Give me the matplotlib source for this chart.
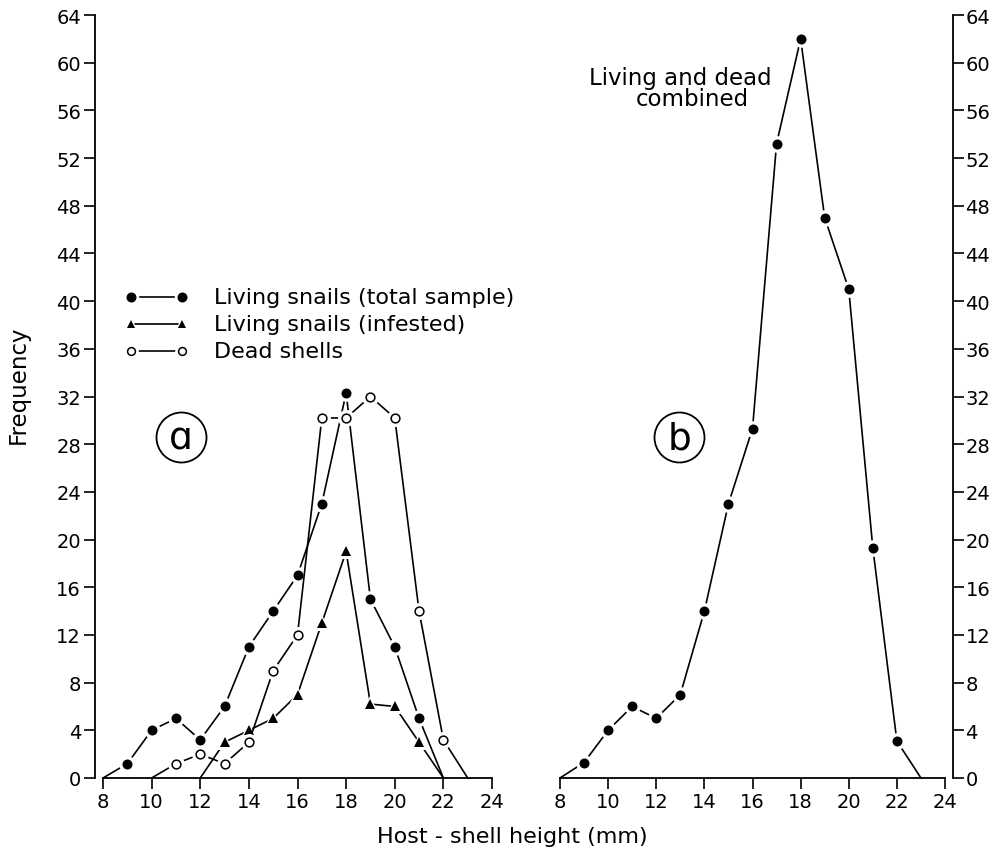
import matplotlib
matplotlib.use("Agg")
import matplotlib.pyplot as plt
from matplotlib.lines import Line2D
import numpy as np

# ---------------- data ----------------
x_total = [8, 9, 10, 11, 12, 13, 14, 15, 16, 17, 18, 19, 20, 21, 22]
y_total = [0, 1.2, 4, 5, 3.2, 6, 11, 14, 17, 23, 32.3, 15, 11, 5, 0]

x_inf = [12, 13, 14, 15, 16, 17, 18, 19, 20, 21, 22]
y_inf = [0, 3, 4, 5, 7, 13, 19, 6.2, 6, 3, 0]

x_dead = [10, 11, 12, 13, 14, 15, 16, 17, 18, 19, 20, 21, 22, 23]
y_dead = [0, 1.2, 2, 1.2, 3, 9, 12, 30.2, 30.2, 32, 30.2, 14, 3.2, 0]

x_comb = [8, 9, 10, 11, 12, 13, 14, 15, 16, 17, 18, 19, 20, 21, 22, 23]
y_comb = [0, 1.3, 4, 6, 5, 7, 14, 23, 29.3, 53.2, 62, 47, 41, 19.3, 3.1, 0]

x_ticks = list(range(8, 25, 2))
y_ticks = list(range(0, 65, 4))

legend_labels = ["Living snails (total sample)", "Living snails (infested)", "Dead shells"]

# ---------------- figure ----------------
W, H = 1005, 853
fig = plt.figure(figsize=(W / 100, H / 100), dpi=100)
plt.rcParams['font.family'] = ['DejaVu Sans']

def fx(px):
    return px / W

def fy(py):
    return 1 - py / H

FS = 14
TFS = 16
LW = 1.2

y_top, y_bot = 16, 779

# left axes
lx0, lx8, lx24 = 95, 103, 492
unit_l = (lx24 - lx8) / 16
ax1 = fig.add_axes([fx(lx0), fy(y_bot), (lx24 - lx0) / W, (y_bot - y_top) / H])
ax1.set_xlim(8 - (lx8 - lx0) / unit_l, 24)
ax1.set_ylim(0, 64)

# right axes
rx8, rx24, rx1 = 560, 945, 953
unit_r = (rx24 - rx8) / 16
ax2 = fig.add_axes([fx(rx8), fy(y_bot), (rx1 - rx8) / W, (y_bot - y_top) / H])
ax2.set_xlim(8, 24 + (rx1 - rx24) / unit_r)
ax2.set_ylim(0, 64)

for ax in (ax1, ax2):
    ax.patch.set_alpha(0)
    ax.spines['top'].set_visible(False)
    ax.spines['bottom'].set_bounds(8, 24)
    ax.spines['bottom'].set_linewidth(1.3)
    ax.set_xticks(x_ticks)
    ax.set_xticklabels([str(t) for t in x_ticks])
    ax.set_yticks(y_ticks)
    ax.set_yticklabels([str(t) for t in y_ticks])
    ax.tick_params(axis='both', direction='out', length=8, width=1.2,
                   labelsize=FS, pad=2)

ax1.spines['right'].set_visible(False)
ax1.spines['left'].set_linewidth(1.3)
ax1.spines['left'].set_bounds(0, 64)

ax2.spines['left'].set_visible(False)
ax2.spines['right'].set_linewidth(1.3)
ax2.yaxis.tick_right()
ax2.yaxis.set_label_position('right')
ax2.tick_params(axis='y', pad=1)


def series(ax, x, y, marker, ms, filled, gap=2.4, z=3):
    ax.plot(x, y, color='black', lw=LW, zorder=z, clip_on=False)
    xm, ym = x[1:-1], y[1:-1]
    ax.plot(xm, ym, ls='none', marker=marker, ms=ms + 2 * gap,
            mfc='white', mec='white', mew=0, zorder=z + 1, clip_on=False)
    if filled:
        ax.plot(xm, ym, ls='none', marker=marker, ms=ms, mfc='black',
                mec='black', mew=0, zorder=z + 2, clip_on=False)
    else:
        ax.plot(xm, ym, ls='none', marker=marker, ms=ms - 1.1, mfc='white',
                mec='black', mew=1.1, zorder=z + 2, clip_on=False)


series(ax1, x_inf, y_inf, '^', 7.0, True, z=3)
series(ax1, x_total, y_total, 'o', 7.2, True, z=6)
series(ax1, x_dead, y_dead, 'o', 7.4, False, z=9)
series(ax2, x_comb, y_comb, 'o', 7.2, True, z=3)

# ---------------- legend (hand-drawn style) ----------------
leg_rows = [298, 325, 352]
leg_styles = [('o', 7.2, True), ('^', 6.0, True), ('o', 6.6, False)]
for (m, ms, filled), py, lab in zip(leg_styles, leg_rows, legend_labels):
    fig.add_artist(Line2D([fx(131), fx(182)], [fy(py), fy(py)],
                          transform=fig.transFigure, color='black', lw=LW))
    for px in (131, 182):
        fig.add_artist(Line2D([fx(px)], [fy(py)], transform=fig.transFigure,
                              marker=m, ms=ms + 4, mfc='white', mew=0, ls='none'))
        if filled:
            fig.add_artist(Line2D([fx(px)], [fy(py)], transform=fig.transFigure,
                                  marker=m, ms=ms, mfc='black', mew=0, ls='none'))
        else:
            fig.add_artist(Line2D([fx(px)], [fy(py)], transform=fig.transFigure,
                                  marker=m, ms=ms - 1, mfc='white', mec='black',
                                  mew=1.1, ls='none'))
    fig.text(fx(214), fy(py), lab, fontsize=TFS, ha='left', va='center')

# ---------------- circled panel letters ----------------
for cx, cy, letter in [(181, 438, '\u0251'), (679, 438, 'b')]:
    fig.add_artist(Line2D([fx(cx)], [fy(cy)], transform=fig.transFigure,
                          marker='o', ms=36, mfc='none', mec='black', mew=1.3,
                          ls='none'))
    fig.text(fx(cx), fy(cy + 1), letter, fontsize=27, ha='center', va='center')

# annotation in panel b
fig.text(fx(680), fy(78), "Living and dead", fontsize=16.5,
         ha='center', va='center')
fig.text(fx(692), fy(100), "combined", fontsize=16.5,
         ha='center', va='center')

# axis labels
fig.text(fx(18), fy(385), "Frequency", fontsize=16.5, rotation=90,
         ha='center', va='center')
fig.text(fx(512), fy(837), "Host - shell height (mm)", fontsize=TFS,
         ha='center', va='center')

fig.savefig("out.png", dpi=100)
